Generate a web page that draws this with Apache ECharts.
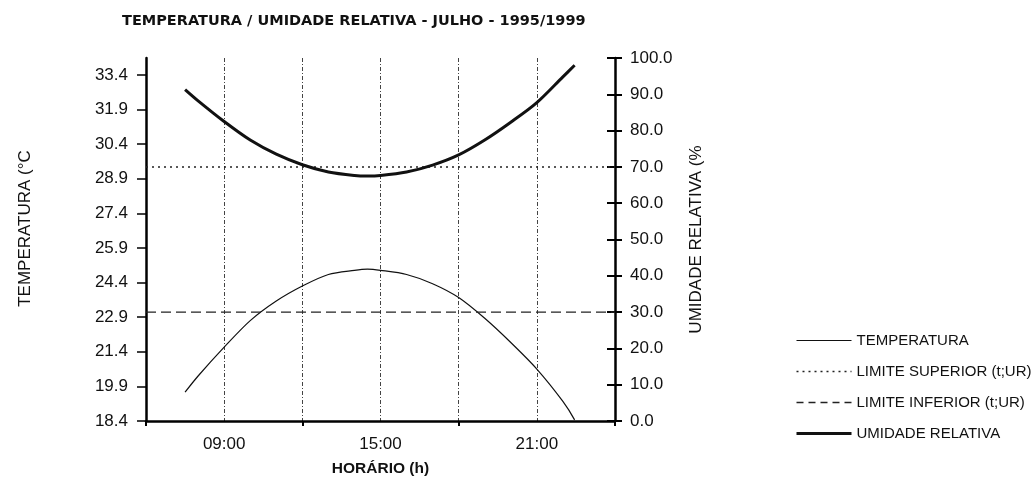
<!DOCTYPE html>
<html>
<head>
<meta charset="utf-8">
<script src="https://cdn.jsdelivr.net/npm/echarts@6/dist/echarts.min.js"></script>
<style>
html,body{margin:0;padding:0;background:#fff;}
#chart{width:1034px;height:482px;}
</style>
</head>
<body>
<div id="chart"></div>
<script>
const hours = [7.5, 8, 9, 10, 11, 12, 13, 14, 14.5, 15, 16, 17, 18, 19, 20, 21, 22, 22.45];
const temperature = [19.65, 20.35, 21.6, 22.75, 23.6, 24.25, 24.75, 24.93, 24.98, 24.93, 24.75, 24.35, 23.75, 22.85, 21.8, 20.65, 19.25, 18.45];
const humidity = [91.3, 88.2, 82.5, 77.4, 73.5, 70.6, 68.6, 67.65, 67.5, 67.65, 68.6, 70.5, 73.3, 77.4, 82.3, 87.7, 94.8, 98.0];
const limitHours = [6, 24];
const upperLimit = [70, 70];
const lowerLimit = [30, 30];
const tempTicks = [18.4, 19.9, 21.4, 22.9, 24.4, 25.9, 27.4, 28.9, 30.4, 31.9, 33.4];
const xLabelHours = [9, 15, 21];
const xLabels = ['09:00', '15:00', '21:00'];
const xTickHours = [6, 12, 18, 24];
const seriesNames = ['TEMPERATURA', 'LIMITE SUPERIOR (t;UR)', 'LIMITE INFERIOR (t;UR)', 'UMIDADE RELATIVA'];

const pairs = (xs, ys) => xs.map((x, i) => [x, ys[i]]);
const FONT = 'Liberation Sans, Arial, sans-serif';

const styles = [
  {color: '#111', width: 1.2, type: 'solid'},
  {color: '#222', width: 1.5, type: [2, 4]},
  {color: '#222', width: 1.3, type: [10, 5]},
  {color: '#111', width: 3, type: 'solid'}
];

const chart = echarts.init(document.getElementById('chart'), null, {renderer: 'canvas'});
chart.setOption({
  animation: false,
  backgroundColor: '#fff',
  title: {
    text: 'TEMPERATURA / UMIDADE RELATIVA - JULHO - 1995/1999',
    left: 122, top: 14, padding: 0,
    textStyle: {fontFamily: 'DejaVu Sans', fontWeight: 'bold', fontSize: 14.5, color: '#111'}
  },
  legend: {
    orient: 'vertical', left: 790, top: 328,
    itemWidth: 55, itemHeight: 14, itemGap: 16,
    itemStyle: {opacity: 0},
    textStyle: {fontFamily: FONT, fontSize: 15, color: '#111'},
    data: seriesNames.map((n, i) => ({
      name: n,
      itemStyle: {opacity: 0},
      lineStyle: {color: styles[i].color, width: styles[i].width, type: i === 2 ? [7, 5] : styles[i].type}
    }))
  },
  grid: {left: 146, right: 419, top: 58, bottom: 57},
  xAxis: [
    {
      type: 'value', min: 6, max: 24, interval: 3,
      axisLine: {show: true, lineStyle: {color: '#000', width: 2.5}},
      axisTick: {show: false},
      axisLabel: {
        formatter: v => { const i = xLabelHours.indexOf(v); return i >= 0 ? xLabels[i] : ''; },
        fontFamily: FONT, fontSize: 17, color: '#111', margin: 15
      },
      splitLine: {show: true, lineStyle: {color: '#444', type: [4, 2, 1, 2], width: 1}},
      name: 'HORÁRIO (h)', nameLocation: 'middle', nameGap: 40,
      nameTextStyle: {fontFamily: FONT, fontWeight: 'bold', fontSize: 15.5, color: '#111'}
    },
    {
      type: 'value', min: 6, max: 24, position: 'bottom',
      axisLine: {show: false},
      axisTick: {show: true, customValues: xTickHours, length: 5, lineStyle: {color: '#000', width: 2}},
      axisLabel: {show: false},
      splitLine: {show: false}
    }
  ],
  yAxis: [
    {
      type: 'value', min: 18.4, max: 34.13, position: 'left',
      axisLine: {show: true, lineStyle: {color: '#000', width: 2.5}},
      axisTick: {show: true, customValues: tempTicks, length: 9, lineStyle: {color: '#000', width: 1.5}},
      axisLabel: {customValues: tempTicks, formatter: v => v.toFixed(1), fontFamily: FONT, fontSize: 17, color: '#111', margin: 18},
      splitLine: {show: false},
      name: 'TEMPERATURA (°C', nameLocation: 'middle', nameRotate: 90, nameGap: 112,
      nameTextStyle: {fontFamily: FONT, fontSize: 17, color: '#111', padding: [0, 0, 0, 22]}
    },
    {
      type: 'value', min: 0, max: 100, interval: 10, position: 'right',
      axisLine: {show: true, lineStyle: {color: '#000', width: 2.5}},
      axisTick: {show: true, length: 7, lineStyle: {color: '#000', width: 2}},
      axisLabel: {formatter: v => v.toFixed(1), fontFamily: FONT, fontSize: 17, color: '#111', margin: 15},
      splitLine: {show: false},
      name: 'UMIDADE RELATIVA (%', nameLocation: 'middle', nameRotate: 90, nameGap: 73,
      nameTextStyle: {fontFamily: FONT, fontSize: 17, color: '#111'}
    },
    {
      type: 'value', min: 0, max: 100, interval: 10, position: 'right',
      axisLine: {show: false},
      axisTick: {show: true, inside: true, length: 8, lineStyle: {color: '#000', width: 2}},
      axisLabel: {show: false},
      splitLine: {show: false}
    }
  ],
  series: [
    {
      name: seriesNames[0], type: 'line', xAxisIndex: 0, yAxisIndex: 0,
      data: pairs(hours, temperature), smooth: 0.3, symbol: 'none',
      lineStyle: styles[0], itemStyle: {color: styles[0].color}
    },
    {
      name: seriesNames[1], type: 'line', xAxisIndex: 0, yAxisIndex: 1,
      data: pairs(limitHours, upperLimit), symbol: 'none',
      lineStyle: styles[1], itemStyle: {color: styles[1].color}
    },
    {
      name: seriesNames[2], type: 'line', xAxisIndex: 0, yAxisIndex: 1,
      data: pairs(limitHours, lowerLimit), symbol: 'none',
      lineStyle: styles[2], itemStyle: {color: styles[2].color}
    },
    {
      name: seriesNames[3], type: 'line', xAxisIndex: 0, yAxisIndex: 1,
      data: pairs(hours, humidity), smooth: 0.3, symbol: 'none',
      lineStyle: styles[3], itemStyle: {color: styles[3].color}
    }
  ]
});
</script>
</body>
</html>
